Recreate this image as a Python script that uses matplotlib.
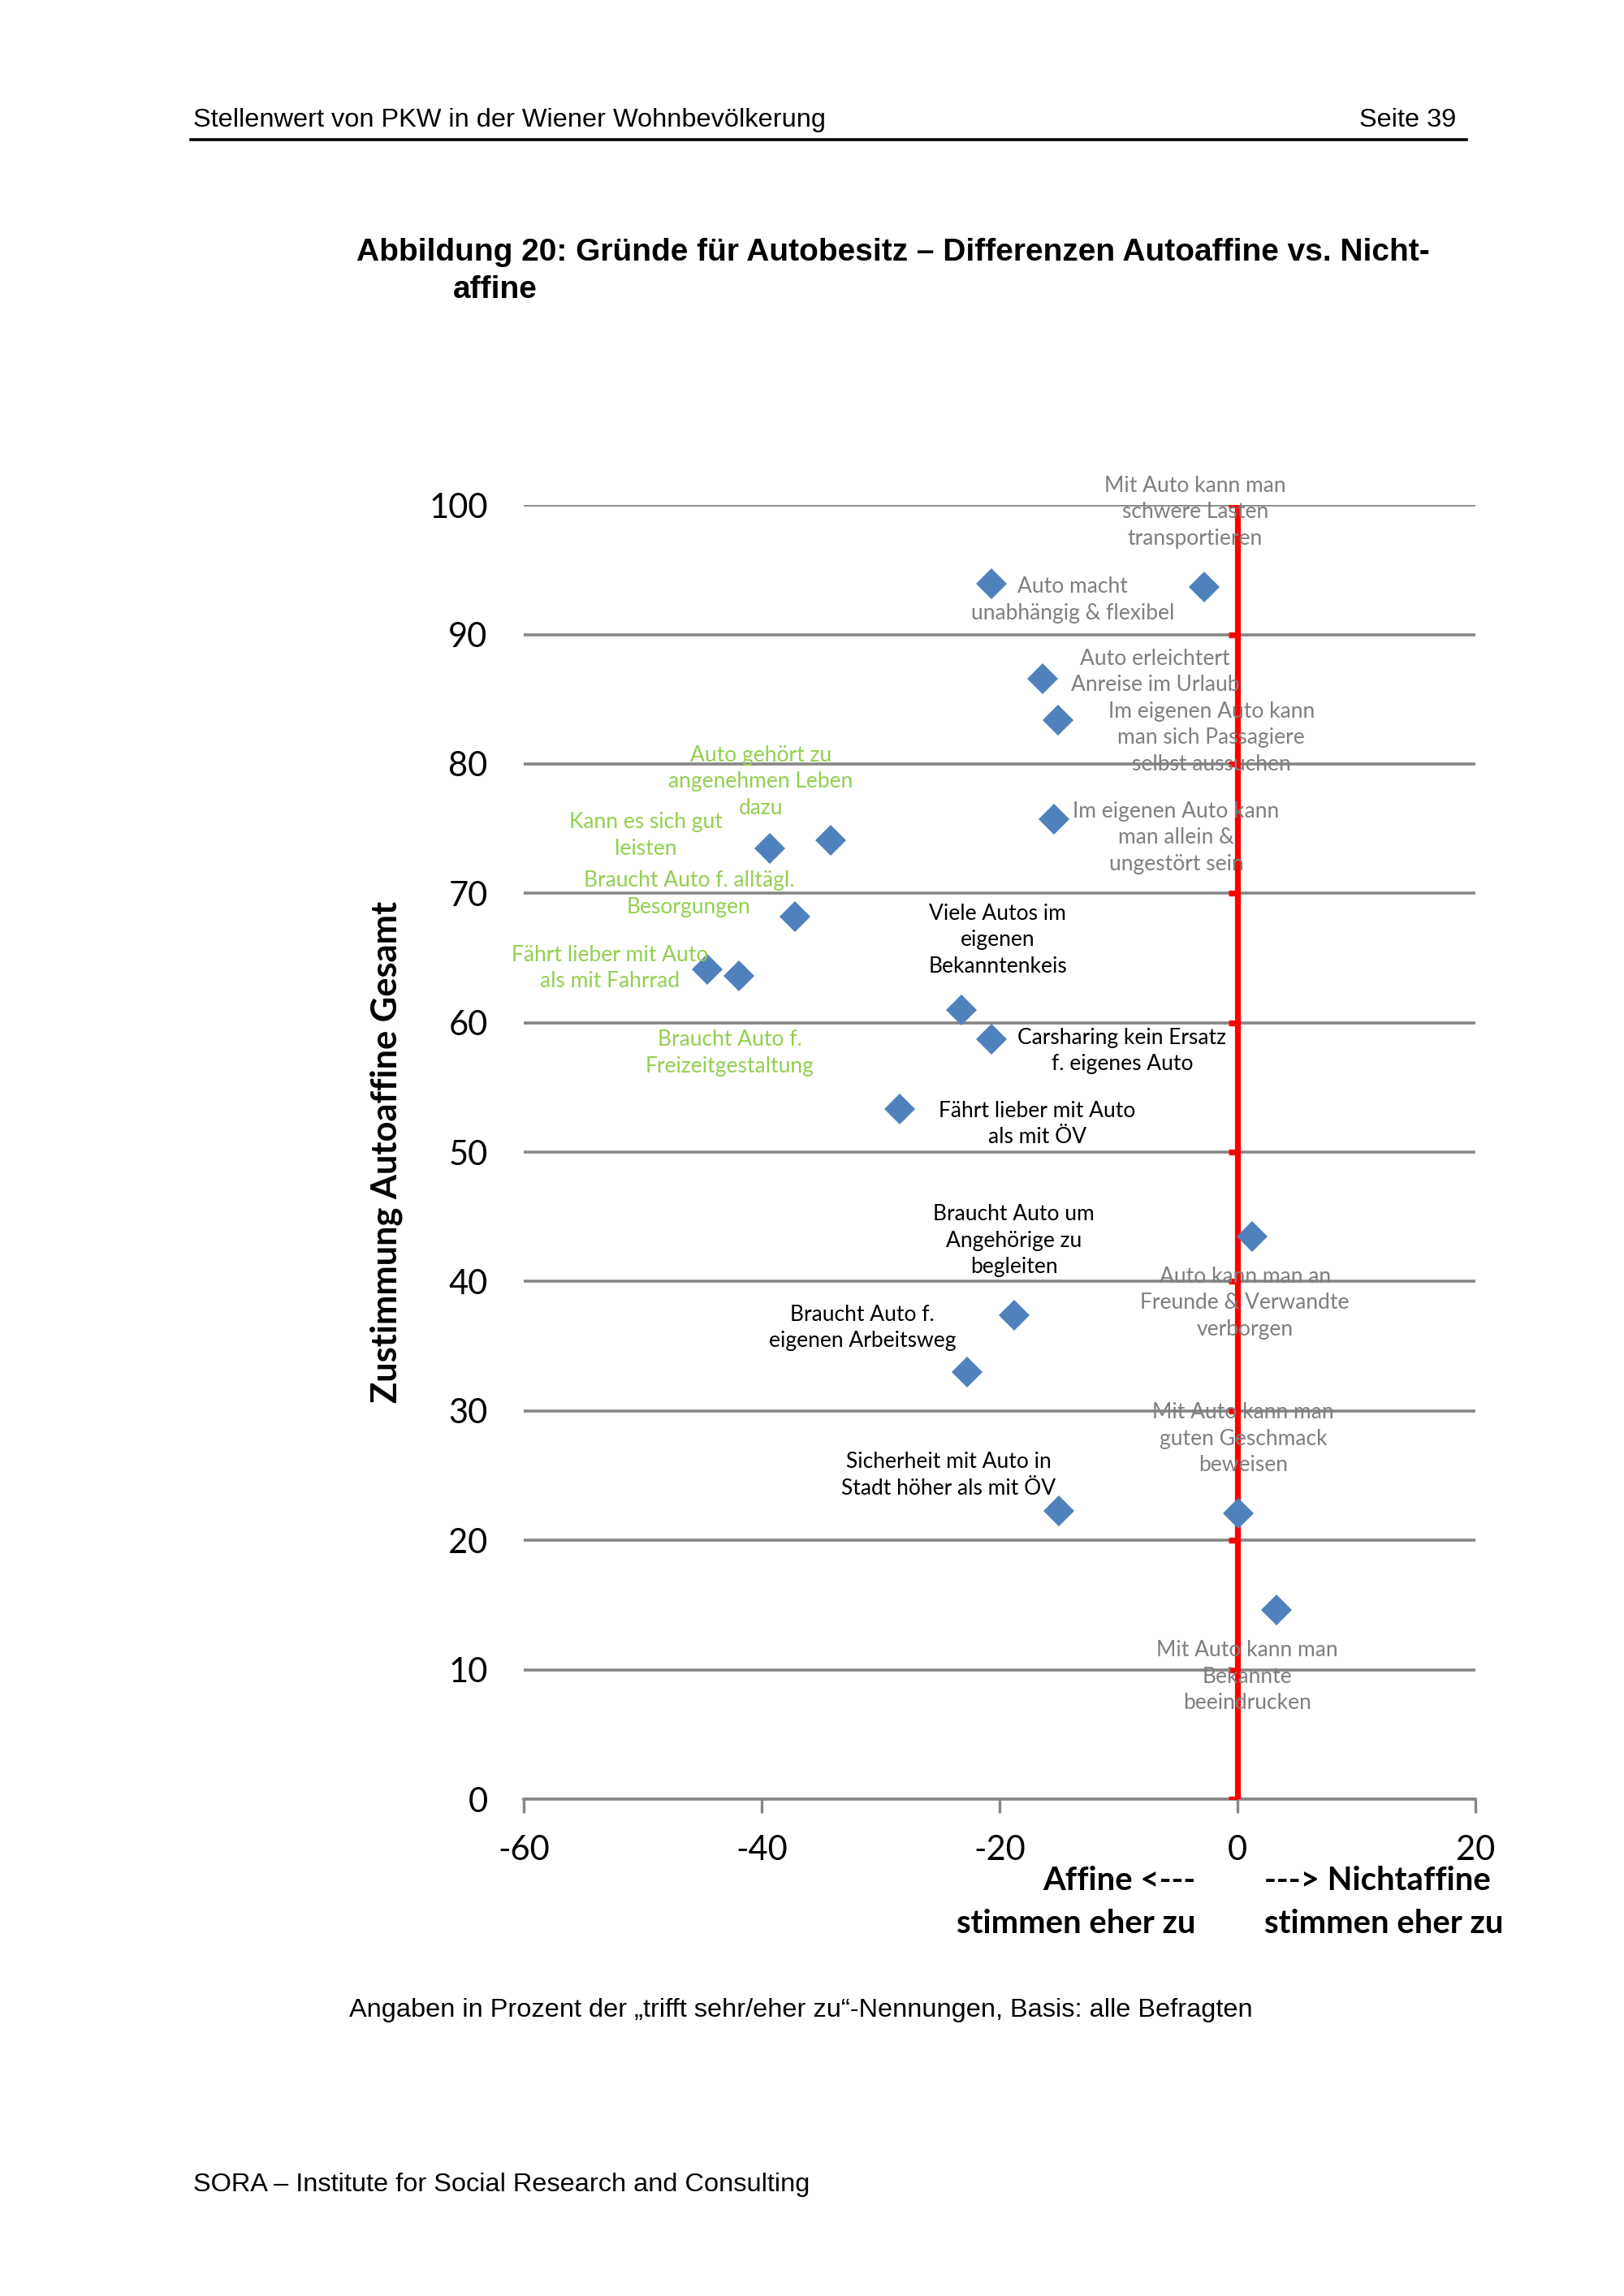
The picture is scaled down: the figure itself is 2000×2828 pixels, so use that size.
import matplotlib
matplotlib.use("Agg")
import matplotlib.pyplot as plt
from matplotlib.lines import Line2D

plt.rcParams['axes.unicode_minus'] = False

# ---------------- data ----------------
labels = [
    "Auto macht\nunabhängig & flexibel",
    "Mit Auto kann man\nschwere Lasten\ntransportieren",
    "Auto erleichtert\nAnreise im Urlaub",
    "Im eigenen Auto kann\nman sich Passagiere\nselbst aussuchen",
    "Im eigenen Auto kann\nman allein &\nungestört sein",
    "Kann es sich gut\nleisten",
    "Auto gehört zu\nangenehmen Leben\ndazu",
    "Braucht Auto f. alltägl.\nBesorgungen",
    "Fährt lieber mit Auto\nals mit Fahrrad",
    "Braucht Auto f.\nFreizeitgestaltung",
    "Viele Autos im\neigenen\nBekanntenkeis",
    "Carsharing kein Ersatz\nf. eigenes Auto",
    "Fährt lieber mit Auto\nals mit ÖV",
    "Auto kann man an\nFreunde & Verwandte\nverborgen",
    "Braucht Auto um\nAngehörige zu\nbegleiten",
    "Braucht Auto f.\neigenen Arbeitsweg",
    "Sicherheit mit Auto in\nStadt höher als mit ÖV",
    "Mit Auto kann man\nguten Geschmack\nbeweisen",
    "Mit Auto kann man\nBekannte\nbeeindrucken",
]
differenz = [-20.7, -2.8, -16.4, -15.1, -15.4, -39.3, -34.2, -37.2, -44.6, -41.9,
             -23.2, -20.7, -28.4, 1.2, -18.8, -22.7, -15.0, 0.1, 3.3]
zustimmung_gesamt = [93.9, 93.7, 86.6, 83.4, 75.7, 73.5, 74.1, 68.2, 64.1, 63.6,
                     61.0, 58.7, 53.3, 43.5, 37.4, 33.0, 22.3, 22.1, 14.6]
gruppe = ["grau", "grau", "grau", "grau", "grau", "gruen", "gruen", "gruen", "gruen", "gruen",
          "schwarz", "schwarz", "schwarz", "grau", "schwarz", "schwarz", "schwarz", "grau", "grau"]

x_ticks = [-60, -40, -20, 0, 20]
y_ticks = [0, 10, 20, 30, 40, 50, 60, 70, 80, 90, 100]

# ---------------- layout / style ----------------
label_offsets = [  # (dx, dy) in points from marker to label centre
    (36, -7), (-4, 33), (50, 3), (68, -8), (54, -8),
    (-55, 5.5), (-31, 26), (-47, 10), (-43, 0.7), (-4, -34),
    (16, 31), (58, -5), (61, -6.5), (-3, -29.5), (0, 33),
    (-46.5, 19.6), (-49, 15.7), (2, 33), (-13, -29.5),
]
farben = {"grau": "#7F7F7F", "gruen": "#92D050", "schwarz": "#000000"}
marker_color = "#4F81BD"
grid_color = "#868686"
lab_font = "Lato"
page_font = "Liberation Sans"

fig = plt.figure(figsize=(10, 14.14), dpi=200)
ax = fig.add_axes([0.3225, 0.2164, 0.586, 0.5636])

ax.set_xlim(x_ticks[0], x_ticks[-1])
ax.set_ylim(y_ticks[0], y_ticks[-1])
ax.set_yticks(y_ticks)
ax.set_xticks(x_ticks)
ax.set_xticklabels([str(v) for v in x_ticks], fontfamily=lab_font, fontsize=15)
ax.set_yticklabels([str(v) for v in y_ticks], fontfamily=lab_font, fontsize=15)
ax.tick_params(axis='y', length=0, pad=16)
ax.tick_params(axis='x', length=6, width=1.2, color=grid_color, direction='out', pad=10)
for s in ['top', 'right', 'left']:
    ax.spines[s].set_visible(False)
ax.spines['bottom'].set_color(grid_color)
ax.spines['bottom'].set_linewidth(1.3)
ax.grid(axis='y', color=grid_color, linewidth=1.3)
ax.set_axisbelow(True)

# red vertical reference line at 0 with small left ticks
ax.plot([0, 0], [y_ticks[0], y_ticks[-1]], color="#FF0000", lw=2.6, zorder=3, solid_capstyle='butt')
ax.plot([0] * len(y_ticks), y_ticks, linestyle='none', marker=0, markersize=4,
        markeredgewidth=2.6, color="#FF0000", zorder=3)

ax.plot(differenz, zustimmung_gesamt, linestyle='none', marker='D', markersize=9.5,
        color=marker_color, markeredgewidth=0, zorder=4)

for i, txt in enumerate(labels):
    dx, dy = label_offsets[i]
    ax.annotate(txt, (differenz[i], zustimmung_gesamt[i]), xytext=(dx, dy),
                textcoords='offset points', ha='center', va='center', multialignment='center',
                fontsize=9.5, fontfamily=lab_font, color=farben[gruppe[i]], linespacing=1.38,
                zorder=5, annotation_clip=False)

ax.set_ylabel("Zustimmung Autoaffine Gesamt", fontfamily=lab_font, fontsize=15.6,
              fontweight='bold')
ax.yaxis.set_label_coords(-0.127, 0.5)

# axis direction notes
fs_note = 14.4
fig.text(0.736, 0.1807, "Affine <---", ha='right', va='center', fontfamily=lab_font,
         fontsize=fs_note, fontweight='bold')
fig.text(0.736, 0.1622, "stimmen eher zu", ha='right', va='center', fontfamily=lab_font,
         fontsize=fs_note, fontweight='bold')
fig.text(0.7784, 0.1807, "---> Nichtaffine", ha='left', va='center', fontfamily=lab_font,
         fontsize=fs_note, fontweight='bold')
fig.text(0.7784, 0.1622, "stimmen eher zu", ha='left', va='center', fontfamily=lab_font,
         fontsize=fs_note, fontweight='bold')

# page furniture
fig.text(0.119, 0.9476, "Stellenwert von PKW in der Wiener Wohnbevölkerung", ha='left', va='center',
         fontfamily=page_font, fontsize=11.7)
fig.text(0.8967, 0.9476, "Seite 39", ha='right', va='center', fontfamily=page_font, fontsize=11.7)
fig.add_artist(Line2D([0.1174, 0.903], [0.9393, 0.9393], transform=fig.transFigure,
                      color='black', lw=1.3))
fig.text(0.2194, 0.8902, "Abbildung 20: Gründe für Autobesitz – Differenzen Autoaffine vs. Nicht-",
         ha='left', va='center', fontfamily=page_font, fontsize=14, fontweight='bold')
fig.text(0.279, 0.8736, "affine", ha='left', va='center', fontfamily=page_font, fontsize=14,
         fontweight='bold')
fig.text(0.215, 0.1245, "Angaben in Prozent der „trifft sehr/eher zu“-Nennungen, Basis: alle Befragten",
         ha='left', va='center', fontfamily=page_font, fontsize=11.7)
fig.text(0.119, 0.0485, "SORA – Institute for Social Research and Consulting", ha='left', va='center',
         fontfamily=page_font, fontsize=11.7)

fig.savefig("out.png", dpi=200, facecolor='white')
